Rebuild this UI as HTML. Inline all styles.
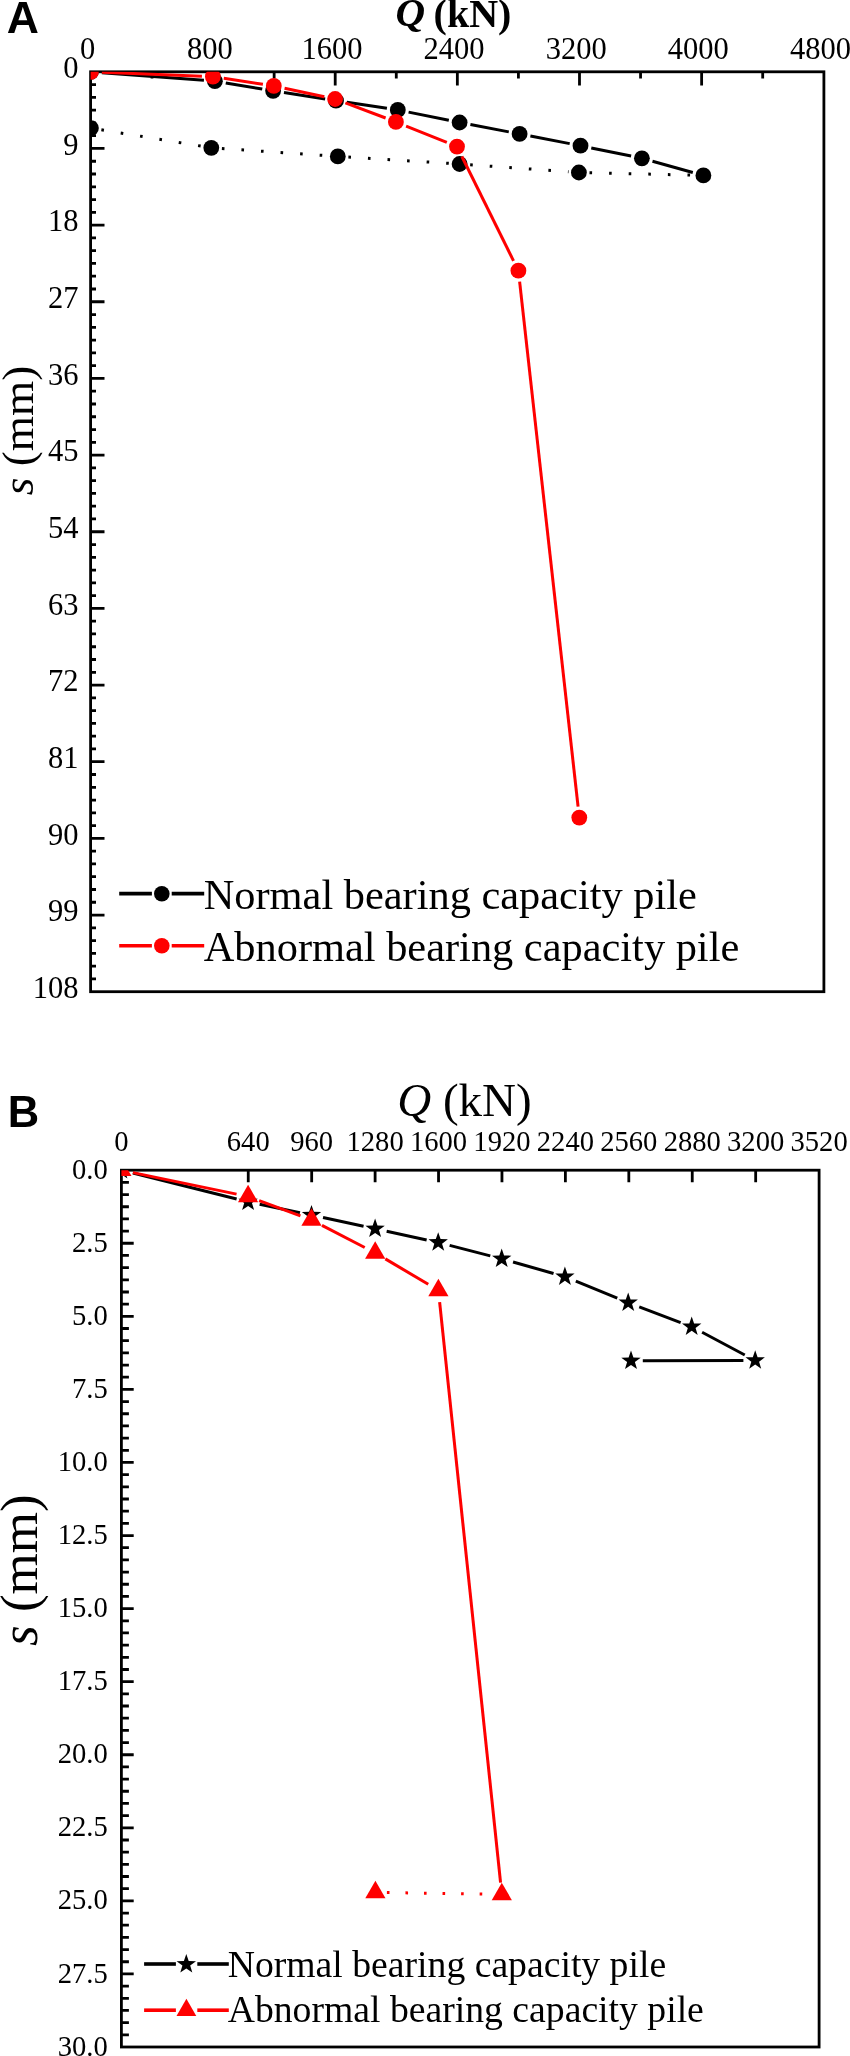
<!DOCTYPE html>
<html><head><meta charset="utf-8"><title>Load-settlement curves</title>
<style>
html,body{margin:0;padding:0;background:#fff;}
body{width:850px;height:2056px;overflow:hidden;font-family:"Liberation Serif",serif;}
svg{display:block;will-change:transform;}
text{fill:#000;}
</style></head><body>
<svg width="850" height="2056" viewBox="0 0 850 2056">
<rect x="90.6" y="71.8" width="733.3" height="919.9" fill="none" stroke="#000" stroke-width="2.8"/>
<path d="M152 71.8V78.6M213.07 71.8V85.6M274.14 71.8V78.6M335.21 71.8V85.6M396.28 71.8V78.6M457.35 71.8V85.6M518.42 71.8V78.6M579.49 71.8V85.6M640.56 71.8V78.6M701.63 71.8V85.6M762.7 71.8V78.6M90.6 84.58H96M90.6 97.35H96M90.6 110.13H96M90.6 122.91H96M90.6 135.68H96M90.6 148.46H104.5M90.6 161.23H96M90.6 174.01H96M90.6 186.79H96M90.6 199.56H96M90.6 212.34H96M90.6 225.12H104.5M90.6 237.89H96M90.6 250.67H96M90.6 263.45H96M90.6 276.22H96M90.6 289H96M90.6 301.77H104.5M90.6 314.55H96M90.6 327.33H96M90.6 340.1H96M90.6 352.88H96M90.6 365.66H96M90.6 378.43H104.5M90.6 391.21H96M90.6 403.99H96M90.6 416.76H96M90.6 429.54H96M90.6 442.32H96M90.6 455.09H104.5M90.6 467.87H96M90.6 480.64H96M90.6 493.42H96M90.6 506.2H96M90.6 518.97H96M90.6 531.75H104.5M90.6 544.53H96M90.6 557.3H96M90.6 570.08H96M90.6 582.86H96M90.6 595.63H96M90.6 608.41H104.5M90.6 621.18H96M90.6 633.96H96M90.6 646.74H96M90.6 659.51H96M90.6 672.29H96M90.6 685.07H104.5M90.6 697.84H96M90.6 710.62H96M90.6 723.4H96M90.6 736.17H96M90.6 748.95H96M90.6 761.72H104.5M90.6 774.5H96M90.6 787.28H96M90.6 800.05H96M90.6 812.83H96M90.6 825.61H96M90.6 838.38H104.5M90.6 851.16H96M90.6 863.94H96M90.6 876.71H96M90.6 889.49H96M90.6 902.27H96M90.6 915.04H104.5M90.6 927.82H96M90.6 940.59H96M90.6 953.37H96M90.6 966.15H96M90.6 978.92H96" stroke="#000" stroke-width="2.8" fill="none"/>
<clipPath id="ca"><rect x="90.6" y="71.8" width="733.3" height="919.9"/></clipPath>
<g clip-path="url(#ca)">
<line x1="101.36" y1="129.81" x2="201.04" y2="146.12" stroke="#000" stroke-width="3" stroke-dasharray="2.6 17" stroke-dashoffset="0"/>
<line x1="221.88" y1="148.52" x2="327.42" y2="155.69" stroke="#000" stroke-width="3" stroke-dasharray="2.6 17" stroke-dashoffset="0"/>
<line x1="348.38" y1="157.06" x2="449.22" y2="163.35" stroke="#000" stroke-width="3" stroke-dasharray="2.6 17" stroke-dashoffset="0"/>
<line x1="470.17" y1="164.75" x2="568.53" y2="171.76" stroke="#000" stroke-width="3" stroke-dasharray="2.6 17" stroke-dashoffset="0"/>
<line x1="589.5" y1="172.75" x2="693" y2="175.16" stroke="#000" stroke-width="3" stroke-dasharray="2.6 17" stroke-dashoffset="0"/>
<circle cx="90.9" cy="128.1" r="7.9" fill="#000"/>
<circle cx="211.3" cy="147.8" r="7.9" fill="#000"/>
<circle cx="337.8" cy="156.4" r="7.9" fill="#000"/>
<circle cx="459.6" cy="164" r="7.9" fill="#000"/>
<circle cx="578.9" cy="172.5" r="7.9" fill="#000"/>
<line x1="101.87" y1="72.63" x2="203.93" y2="80.37" stroke="#000" stroke-width="3"/>
<line x1="225.75" y1="82.99" x2="262.25" y2="89.01" stroke="#000" stroke-width="3"/>
<line x1="283.97" y1="92.51" x2="325.13" y2="98.99" stroke="#000" stroke-width="3"/>
<line x1="346.88" y1="102.32" x2="386.92" y2="108.28" stroke="#000" stroke-width="3"/>
<line x1="408.58" y1="112.1" x2="448.82" y2="120.3" stroke="#000" stroke-width="3"/>
<line x1="470.41" y1="124.55" x2="508.79" y2="131.85" stroke="#000" stroke-width="3"/>
<line x1="530.4" y1="135.99" x2="569.7" y2="143.61" stroke="#000" stroke-width="3"/>
<line x1="591.28" y1="147.91" x2="631.12" y2="156.09" stroke="#000" stroke-width="3"/>
<line x1="652.5" y1="161.25" x2="692.8" y2="172.45" stroke="#000" stroke-width="3"/>
<circle cx="90.9" cy="71.8" r="7.9" fill="#000"/>
<circle cx="214.9" cy="81.2" r="7.9" fill="#000"/>
<circle cx="273.1" cy="90.8" r="7.9" fill="#000"/>
<circle cx="336" cy="100.7" r="7.9" fill="#000"/>
<circle cx="397.8" cy="109.9" r="7.9" fill="#000"/>
<circle cx="459.6" cy="122.5" r="7.9" fill="#000"/>
<circle cx="519.6" cy="133.9" r="7.9" fill="#000"/>
<circle cx="580.5" cy="145.7" r="7.9" fill="#000"/>
<circle cx="641.9" cy="158.3" r="7.9" fill="#000"/>
<circle cx="703.4" cy="175.4" r="7.9" fill="#000"/>
<line x1="101.89" y1="72.24" x2="201.91" y2="76.26" stroke="#f00" stroke-width="3"/>
<line x1="223.78" y1="78.34" x2="262.92" y2="84.26" stroke="#f00" stroke-width="3"/>
<line x1="284.56" y1="88.2" x2="324.34" y2="96.7" stroke="#f00" stroke-width="3"/>
<line x1="345.39" y1="102.88" x2="385.61" y2="118.02" stroke="#f00" stroke-width="3"/>
<line x1="406.1" y1="126.02" x2="446.8" y2="142.48" stroke="#f00" stroke-width="3"/>
<line x1="461.88" y1="156.46" x2="513.52" y2="260.84" stroke="#f00" stroke-width="3"/>
<line x1="519.62" y1="281.63" x2="578.08" y2="806.67" stroke="#f00" stroke-width="3"/>
<circle cx="90.9" cy="71.8" r="7.9" fill="#f00"/>
<circle cx="212.9" cy="76.7" r="7.9" fill="#f00"/>
<circle cx="273.8" cy="85.9" r="7.9" fill="#f00"/>
<circle cx="335.1" cy="99" r="7.9" fill="#f00"/>
<circle cx="395.9" cy="121.9" r="7.9" fill="#f00"/>
<circle cx="457" cy="146.6" r="7.9" fill="#f00"/>
<circle cx="518.4" cy="270.7" r="7.9" fill="#f00"/>
<circle cx="579.3" cy="817.6" r="7.9" fill="#f00"/>
</g>
<text x="87.63" y="59" font-size="30.5" text-anchor="middle" font-family="Liberation Serif" font-weight="normal" font-style="normal">0</text>
<text x="209.77" y="59" font-size="30.5" text-anchor="middle" font-family="Liberation Serif" font-weight="normal" font-style="normal">800</text>
<text x="331.91" y="59" font-size="30.5" text-anchor="middle" font-family="Liberation Serif" font-weight="normal" font-style="normal">1600</text>
<text x="454.05" y="59" font-size="30.5" text-anchor="middle" font-family="Liberation Serif" font-weight="normal" font-style="normal">2400</text>
<text x="576.19" y="59" font-size="30.5" text-anchor="middle" font-family="Liberation Serif" font-weight="normal" font-style="normal">3200</text>
<text x="698.33" y="59" font-size="30.5" text-anchor="middle" font-family="Liberation Serif" font-weight="normal" font-style="normal">4000</text>
<text x="820.47" y="59" font-size="30.5" text-anchor="middle" font-family="Liberation Serif" font-weight="normal" font-style="normal">4800</text>
<text x="78.6" y="78" font-size="30.5" text-anchor="end" font-family="Liberation Serif" font-weight="normal" font-style="normal">0</text>
<text x="78.6" y="154.66" font-size="30.5" text-anchor="end" font-family="Liberation Serif" font-weight="normal" font-style="normal">9</text>
<text x="78.6" y="231.32" font-size="30.5" text-anchor="end" font-family="Liberation Serif" font-weight="normal" font-style="normal">18</text>
<text x="78.6" y="307.97" font-size="30.5" text-anchor="end" font-family="Liberation Serif" font-weight="normal" font-style="normal">27</text>
<text x="78.6" y="384.63" font-size="30.5" text-anchor="end" font-family="Liberation Serif" font-weight="normal" font-style="normal">36</text>
<text x="78.6" y="461.29" font-size="30.5" text-anchor="end" font-family="Liberation Serif" font-weight="normal" font-style="normal">45</text>
<text x="78.6" y="537.95" font-size="30.5" text-anchor="end" font-family="Liberation Serif" font-weight="normal" font-style="normal">54</text>
<text x="78.6" y="614.61" font-size="30.5" text-anchor="end" font-family="Liberation Serif" font-weight="normal" font-style="normal">63</text>
<text x="78.6" y="691.27" font-size="30.5" text-anchor="end" font-family="Liberation Serif" font-weight="normal" font-style="normal">72</text>
<text x="78.6" y="767.92" font-size="30.5" text-anchor="end" font-family="Liberation Serif" font-weight="normal" font-style="normal">81</text>
<text x="78.6" y="844.58" font-size="30.5" text-anchor="end" font-family="Liberation Serif" font-weight="normal" font-style="normal">90</text>
<text x="78.6" y="921.24" font-size="30.5" text-anchor="end" font-family="Liberation Serif" font-weight="normal" font-style="normal">99</text>
<text x="78.6" y="997.9" font-size="30.5" text-anchor="end" font-family="Liberation Serif" font-weight="normal" font-style="normal">108</text>
<text x="395.4" y="26.4" font-size="41" font-family="Liberation Serif" font-weight="bold" font-style="italic">Q</text>
<text x="433.6" y="26.6" font-size="40" font-family="Liberation Serif" font-weight="bold">(kN)</text>
<text transform="translate(32.7,495.3) rotate(-90)" font-size="45.3" font-family="Liberation Serif"><tspan font-style="italic">s</tspan> (mm)</text>
<text x="6.8" y="32.8" font-size="44.5" text-anchor="start" font-family="Liberation Sans" font-weight="bold" font-style="normal">A</text>
<line x1="119.2" y1="893.6" x2="151.9" y2="893.6" stroke="#000" stroke-width="3.6"/>
<line x1="171.7" y1="893.6" x2="204.2" y2="893.6" stroke="#000" stroke-width="3.6"/>
<circle cx="161.8" cy="893.7" r="7.8" fill="#000"/>
<line x1="119.2" y1="945.8" x2="151.9" y2="945.8" stroke="#f00" stroke-width="3.6"/>
<line x1="171.7" y1="945.8" x2="204.2" y2="945.8" stroke="#f00" stroke-width="3.6"/>
<circle cx="161.8" cy="945.7" r="7.8" fill="#f00"/>
<text x="203.7" y="909.2" font-size="42.4" text-anchor="start" font-family="Liberation Serif" font-weight="normal" font-style="normal">Normal bearing capacity pile</text>
<text x="203.7" y="961" font-size="42.4" text-anchor="start" font-family="Liberation Serif" font-weight="normal" font-style="normal">Abnormal bearing capacity pile</text>
<rect x="121.4" y="1170.2" width="697.7" height="876.8" fill="none" stroke="#000" stroke-width="2.8"/>
<path d="M248.25 1170.2V1182.2M311.68 1170.2V1182.2M375.11 1170.2V1182.2M438.54 1170.2V1182.2M501.96 1170.2V1182.2M565.39 1170.2V1182.2M628.82 1170.2V1182.2M692.25 1170.2V1182.2M755.67 1170.2V1182.2M121.4 1182.38H128.9M121.4 1194.56H128.9M121.4 1206.73H128.9M121.4 1218.91H128.9M121.4 1231.09H128.9M121.4 1243.27H133.7M121.4 1255.44H128.9M121.4 1267.62H128.9M121.4 1279.8H128.9M121.4 1291.98H128.9M121.4 1304.16H128.9M121.4 1316.33H133.7M121.4 1328.51H128.9M121.4 1340.69H128.9M121.4 1352.87H128.9M121.4 1365.04H128.9M121.4 1377.22H128.9M121.4 1389.4H133.7M121.4 1401.58H128.9M121.4 1413.76H128.9M121.4 1425.93H128.9M121.4 1438.11H128.9M121.4 1450.29H128.9M121.4 1462.47H133.7M121.4 1474.64H128.9M121.4 1486.82H128.9M121.4 1499H128.9M121.4 1511.18H128.9M121.4 1523.36H128.9M121.4 1535.53H133.7M121.4 1547.71H128.9M121.4 1559.89H128.9M121.4 1572.07H128.9M121.4 1584.24H128.9M121.4 1596.42H128.9M121.4 1608.6H133.7M121.4 1620.78H128.9M121.4 1632.96H128.9M121.4 1645.13H128.9M121.4 1657.31H128.9M121.4 1669.49H128.9M121.4 1681.67H133.7M121.4 1693.84H128.9M121.4 1706.02H128.9M121.4 1718.2H128.9M121.4 1730.38H128.9M121.4 1742.56H128.9M121.4 1754.73H133.7M121.4 1766.91H128.9M121.4 1779.09H128.9M121.4 1791.27H128.9M121.4 1803.44H128.9M121.4 1815.62H128.9M121.4 1827.8H133.7M121.4 1839.98H128.9M121.4 1852.16H128.9M121.4 1864.33H128.9M121.4 1876.51H128.9M121.4 1888.69H128.9M121.4 1900.87H133.7M121.4 1913.04H128.9M121.4 1925.22H128.9M121.4 1937.4H128.9M121.4 1949.58H128.9M121.4 1961.76H128.9M121.4 1973.93H133.7M121.4 1986.11H128.9M121.4 1998.29H128.9M121.4 2010.47H128.9M121.4 2022.64H128.9M121.4 2034.82H128.9" stroke="#000" stroke-width="2.8" fill="none"/>
<clipPath id="cb"><rect x="121.4" y="1170.2" width="697.7" height="876.8"/></clipPath>
<g clip-path="url(#cb)">
<line x1="132.85" y1="1173.06" x2="236.65" y2="1198.94" stroke="#000" stroke-width="3"/>
<line x1="259.65" y1="1204.22" x2="299.95" y2="1212.68" stroke="#000" stroke-width="3"/>
<line x1="323.04" y1="1217.58" x2="363.56" y2="1226.32" stroke="#000" stroke-width="3"/>
<line x1="386.64" y1="1231.29" x2="426.66" y2="1239.91" stroke="#000" stroke-width="3"/>
<line x1="449.63" y1="1245.35" x2="490.27" y2="1255.85" stroke="#000" stroke-width="3"/>
<line x1="513.05" y1="1262.02" x2="553.55" y2="1273.48" stroke="#000" stroke-width="3"/>
<line x1="575.82" y1="1281.18" x2="617.28" y2="1298.22" stroke="#000" stroke-width="3"/>
<line x1="639.24" y1="1306.87" x2="680.66" y2="1322.53" stroke="#000" stroke-width="3"/>
<line x1="702.12" y1="1332.24" x2="744.78" y2="1354.96" stroke="#000" stroke-width="3"/>
<line x1="743.4" y1="1360.53" x2="642.8" y2="1360.77" stroke="#000" stroke-width="3"/>
<polygon points="121.4,1160 123.8,1166.9 131.1,1167.05 125.28,1171.46 127.4,1178.45 121.4,1174.28 115.4,1178.45 117.52,1171.46 111.7,1167.05 119,1166.9" fill="#000"/>
<polygon points="248.1,1191.6 250.5,1198.5 257.8,1198.65 251.98,1203.06 254.1,1210.05 248.1,1205.88 242.1,1210.05 244.22,1203.06 238.4,1198.65 245.7,1198.5" fill="#000"/>
<polygon points="311.5,1204.9 313.9,1211.8 321.2,1211.95 315.38,1216.36 317.5,1223.35 311.5,1219.18 305.5,1223.35 307.62,1216.36 301.8,1211.95 309.1,1211.8" fill="#000"/>
<polygon points="375.1,1218.6 377.5,1225.5 384.8,1225.65 378.98,1230.06 381.1,1237.05 375.1,1232.88 369.1,1237.05 371.22,1230.06 365.4,1225.65 372.7,1225.5" fill="#000"/>
<polygon points="438.2,1232.2 440.6,1239.1 447.9,1239.25 442.08,1243.66 444.2,1250.65 438.2,1246.48 432.2,1250.65 434.32,1243.66 428.5,1239.25 435.8,1239.1" fill="#000"/>
<polygon points="501.7,1248.6 504.1,1255.5 511.4,1255.65 505.58,1260.06 507.7,1267.05 501.7,1262.88 495.7,1267.05 497.82,1260.06 492,1255.65 499.3,1255.5" fill="#000"/>
<polygon points="564.9,1266.5 567.3,1273.4 574.6,1273.55 568.78,1277.96 570.9,1284.95 564.9,1280.78 558.9,1284.95 561.02,1277.96 555.2,1273.55 562.5,1273.4" fill="#000"/>
<polygon points="628.2,1292.5 630.6,1299.4 637.9,1299.55 632.08,1303.96 634.2,1310.95 628.2,1306.78 622.2,1310.95 624.32,1303.96 618.5,1299.55 625.8,1299.4" fill="#000"/>
<polygon points="691.7,1316.5 694.1,1323.4 701.4,1323.55 695.58,1327.96 697.7,1334.95 691.7,1330.78 685.7,1334.95 687.82,1327.96 682,1323.55 689.3,1323.4" fill="#000"/>
<polygon points="755.2,1350.3 757.6,1357.2 764.9,1357.35 759.08,1361.76 761.2,1368.75 755.2,1364.58 749.2,1368.75 751.32,1361.76 745.5,1357.35 752.8,1357.2" fill="#000"/>
<polygon points="631,1350.6 633.4,1357.5 640.7,1357.65 634.88,1362.06 637,1369.05 631,1364.88 625,1369.05 627.12,1362.06 621.3,1357.65 628.6,1357.5" fill="#000"/>
<line x1="132.95" y1="1172.6" x2="236.55" y2="1194.1" stroke="#f00" stroke-width="3"/>
<line x1="259.16" y1="1200.6" x2="300.44" y2="1215.9" stroke="#f00" stroke-width="3"/>
<line x1="321.98" y1="1225.41" x2="364.72" y2="1247.49" stroke="#f00" stroke-width="3"/>
<line x1="385.36" y1="1258.91" x2="428.24" y2="1284.29" stroke="#f00" stroke-width="3"/>
<line x1="439.63" y1="1302.04" x2="500.57" y2="1882.56" stroke="#f00" stroke-width="3"/>
<line x1="386.9" y1="1892.57" x2="490.5" y2="1894.13" stroke="#f00" stroke-width="3" stroke-dasharray="2.6 15.95" stroke-dashoffset="0"/>
<polygon points="121.4,1158.54 131.5,1176.03 111.3,1176.03" fill="#f00"/>
<polygon points="248.1,1184.84 258.2,1202.33 238,1202.33" fill="#f00"/>
<polygon points="311.5,1208.34 321.6,1225.83 301.4,1225.83" fill="#f00"/>
<polygon points="375.2,1241.24 385.3,1258.73 365.1,1258.73" fill="#f00"/>
<polygon points="438.4,1278.64 448.5,1296.13 428.3,1296.13" fill="#f00"/>
<polygon points="501.8,1882.64 511.9,1900.13 491.7,1900.13" fill="#f00"/>
<polygon points="375.4,1880.74 385.5,1898.23 365.3,1898.23" fill="#f00"/>
</g>
<text x="121.4" y="1150.8" font-size="28.6" text-anchor="middle" font-family="Liberation Serif" font-weight="normal" font-style="normal">0</text>
<text x="248.25" y="1150.8" font-size="28.6" text-anchor="middle" font-family="Liberation Serif" font-weight="normal" font-style="normal">640</text>
<text x="311.68" y="1150.8" font-size="28.6" text-anchor="middle" font-family="Liberation Serif" font-weight="normal" font-style="normal">960</text>
<text x="375.11" y="1150.8" font-size="28.6" text-anchor="middle" font-family="Liberation Serif" font-weight="normal" font-style="normal">1280</text>
<text x="438.54" y="1150.8" font-size="28.6" text-anchor="middle" font-family="Liberation Serif" font-weight="normal" font-style="normal">1600</text>
<text x="501.96" y="1150.8" font-size="28.6" text-anchor="middle" font-family="Liberation Serif" font-weight="normal" font-style="normal">1920</text>
<text x="565.39" y="1150.8" font-size="28.6" text-anchor="middle" font-family="Liberation Serif" font-weight="normal" font-style="normal">2240</text>
<text x="628.82" y="1150.8" font-size="28.6" text-anchor="middle" font-family="Liberation Serif" font-weight="normal" font-style="normal">2560</text>
<text x="692.25" y="1150.8" font-size="28.6" text-anchor="middle" font-family="Liberation Serif" font-weight="normal" font-style="normal">2880</text>
<text x="755.67" y="1150.8" font-size="28.6" text-anchor="middle" font-family="Liberation Serif" font-weight="normal" font-style="normal">3200</text>
<text x="819.1" y="1150.8" font-size="28.6" text-anchor="middle" font-family="Liberation Serif" font-weight="normal" font-style="normal">3520</text>
<text x="107.8" y="1178.8" font-size="28.6" text-anchor="end" font-family="Liberation Serif" font-weight="normal" font-style="normal">0.0</text>
<text x="107.8" y="1251.87" font-size="28.6" text-anchor="end" font-family="Liberation Serif" font-weight="normal" font-style="normal">2.5</text>
<text x="107.8" y="1324.93" font-size="28.6" text-anchor="end" font-family="Liberation Serif" font-weight="normal" font-style="normal">5.0</text>
<text x="107.8" y="1398" font-size="28.6" text-anchor="end" font-family="Liberation Serif" font-weight="normal" font-style="normal">7.5</text>
<text x="107.8" y="1471.07" font-size="28.6" text-anchor="end" font-family="Liberation Serif" font-weight="normal" font-style="normal">10.0</text>
<text x="107.8" y="1544.13" font-size="28.6" text-anchor="end" font-family="Liberation Serif" font-weight="normal" font-style="normal">12.5</text>
<text x="107.8" y="1617.2" font-size="28.6" text-anchor="end" font-family="Liberation Serif" font-weight="normal" font-style="normal">15.0</text>
<text x="107.8" y="1690.27" font-size="28.6" text-anchor="end" font-family="Liberation Serif" font-weight="normal" font-style="normal">17.5</text>
<text x="107.8" y="1763.33" font-size="28.6" text-anchor="end" font-family="Liberation Serif" font-weight="normal" font-style="normal">20.0</text>
<text x="107.8" y="1836.4" font-size="28.6" text-anchor="end" font-family="Liberation Serif" font-weight="normal" font-style="normal">22.5</text>
<text x="107.8" y="1909.47" font-size="28.6" text-anchor="end" font-family="Liberation Serif" font-weight="normal" font-style="normal">25.0</text>
<text x="107.8" y="1982.53" font-size="28.6" text-anchor="end" font-family="Liberation Serif" font-weight="normal" font-style="normal">27.5</text>
<text x="107.8" y="2055.6" font-size="28.6" text-anchor="end" font-family="Liberation Serif" font-weight="normal" font-style="normal">30.0</text>
<text x="397.2" y="1116.4" font-size="47" font-family="Liberation Serif"><tspan font-style="italic">Q</tspan> (kN)</text>
<text transform="translate(37,1646) rotate(-90)" font-size="53" font-family="Liberation Serif"><tspan font-style="italic">s</tspan> (mm)</text>
<text x="7.8" y="1126.7" font-size="43.5" text-anchor="start" font-family="Liberation Sans" font-weight="bold" font-style="normal">B</text>
<line x1="144.1" y1="1964" x2="175.9" y2="1964" stroke="#000" stroke-width="3.6"/>
<line x1="197.3" y1="1964" x2="228.8" y2="1964" stroke="#000" stroke-width="3.6"/>
<polygon points="186.3,1954.1 188.7,1961 196,1961.15 190.18,1965.56 192.3,1972.55 186.3,1968.38 180.3,1972.55 182.42,1965.56 176.6,1961.15 183.9,1961" fill="#000"/>
<line x1="144.1" y1="2010.2" x2="175.9" y2="2010.2" stroke="#f00" stroke-width="3.6"/>
<line x1="197.3" y1="2010.2" x2="228.8" y2="2010.2" stroke="#f00" stroke-width="3.6"/>
<polygon points="186.4,1998.77 196.3,2015.92 176.5,2015.92" fill="#f00"/>
<text x="227.7" y="1977" font-size="37.7" text-anchor="start" font-family="Liberation Serif" font-weight="normal" font-style="normal">Normal bearing capacity pile</text>
<text x="227.7" y="2022.2" font-size="37.7" text-anchor="start" font-family="Liberation Serif" font-weight="normal" font-style="normal">Abnormal bearing capacity pile</text>
</svg>
</body></html>
